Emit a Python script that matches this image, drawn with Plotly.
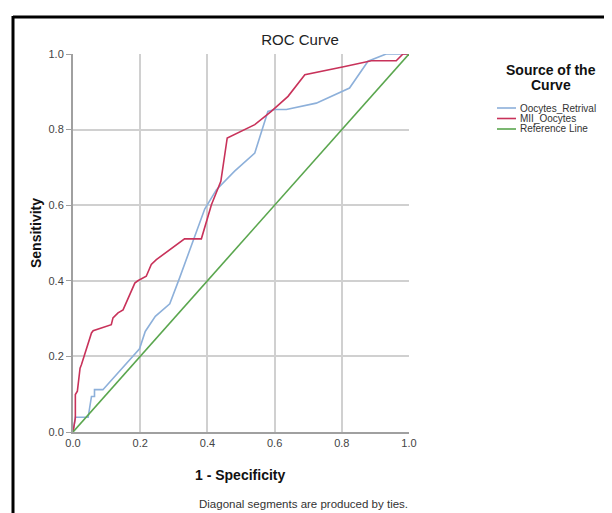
import plotly.graph_objects as go

# ---- data ----
fpr_retrival = [0, 0.007, 0.045, 0.055, 0.064, 0.064, 0.089, 0.198, 0.215, 0.245, 0.288,
                0.317, 0.392, 0.427, 0.481, 0.541, 0.580, 0.600, 0.635, 0.724, 0.823,
                0.878, 0.932, 1.0]
tpr_retrival = [0, 0.039, 0.039, 0.094, 0.094, 0.112, 0.112, 0.220, 0.266, 0.306, 0.339,
                0.407, 0.590, 0.641, 0.690, 0.738, 0.848, 0.853, 0.853, 0.870, 0.910,
                0.981, 1.0, 1.0]

fpr_mii = [0, 0.007, 0.007, 0.013, 0.021, 0.025, 0.055, 0.060, 0.114, 0.119, 0.134, 0.149,
           0.184, 0.193, 0.218, 0.233, 0.248, 0.283, 0.332, 0.382, 0.412, 0.440, 0.459,
           0.541, 0.590, 0.640, 0.690, 0.809, 0.888, 0.962, 0.982, 1.0]
tpr_mii = [0, 0.037, 0.099, 0.108, 0.169, 0.178, 0.262, 0.268, 0.284, 0.302, 0.315, 0.323,
           0.394, 0.400, 0.412, 0.443, 0.456, 0.478, 0.511, 0.511, 0.601, 0.663, 0.778,
           0.813, 0.848, 0.888, 0.945, 0.967, 0.982, 0.982, 1.0, 1.0]

ref_x = [0, 1]
ref_y = [0, 1]

series_names = ["Oocytes_Retrival", "MII_Oocytes", "Reference Line"]
series_colors = ["#8DB0DA", "#C8325A", "#5AA64E"]
tick_vals = [0, 0.2, 0.4, 0.6, 0.8, 1.0]
tick_text = ["0.0", "0.2", "0.4", "0.6", "0.8", "1.0"]

FONT = "Liberation Sans, Arial, sans-serif"

# pixel geometry helpers (plot area 65..401 x 46..424)
W, H = 612, 513
L, R, T, B = 65, 401, 46, 424


def px(xp):
    return (xp - L) / (R - L)


def py(yp):
    return (B - yp) / (B - T)


fig = go.Figure()
xs = [fpr_retrival, fpr_mii, ref_x]
ys = [tpr_retrival, tpr_mii, ref_y]
for i in range(3):
    fig.add_trace(go.Scatter(x=xs[i], y=ys[i], mode="lines", name=series_names[i],
                             line=dict(color=series_colors[i], width=1.6),
                             showlegend=False, hoverinfo="skip"))

axis_common = dict(range=[0, 1], tickvals=tick_vals, ticktext=tick_text,
                   showgrid=True, gridcolor="#D0D0D0", gridwidth=1.6,
                   zeroline=False, showline=True, linecolor="#A0A0A0", linewidth=2,
                   tickfont=dict(family=FONT, size=11, color="#444444"))

fig.update_xaxes(**axis_common, ticks="")
fig.update_yaxes(**axis_common, ticks="outside", ticklen=5, tickcolor="#A0A0A0")

annotations = []
# axis titles
annotations.append(dict(text="<b>Sensitivity</b>", x=px(28), y=py(225), xref="paper", yref="paper",
                        textangle=-90, showarrow=False, xanchor="center", yanchor="middle",
                        font=dict(family=FONT, size=14, color="#111111")))
annotations.append(dict(text="<b>1 - Specificity</b>", x=px(232), y=py(467), xref="paper", yref="paper",
                        showarrow=False, xanchor="center", yanchor="middle",
                        font=dict(family=FONT, size=14, color="#111111")))
annotations.append(dict(text="Diagonal segments are produced by ties.", x=px(402), y=py(496),
                        xref="paper", yref="paper", showarrow=False, xanchor="right", yanchor="middle",
                        font=dict(family=FONT, size=11.5, color="#333333")))
# legend title
annotations.append(dict(text="<b>Source of the</b>", x=px(543), y=py(62), xref="paper", yref="paper",
                        showarrow=False, xanchor="center", yanchor="middle",
                        font=dict(family=FONT, size=14, color="#111111")))
annotations.append(dict(text="<b>Curve</b>", x=px(543), y=py(77), xref="paper", yref="paper",
                        showarrow=False, xanchor="center", yanchor="middle",
                        font=dict(family=FONT, size=14, color="#111111")))

shapes = []
row_y = [100, 110.5, 121]
for i in range(3):
    annotations.append(dict(text=series_names[i], x=px(510), y=py(row_y[i]), xref="paper", yref="paper",
                            showarrow=False, xanchor="left", yanchor="middle",
                            font=dict(family=FONT, size=10, color="#333333")))
    shapes.append(dict(type="line", xref="paper", yref="paper", x0=px(489), x1=px(508),
                       y0=py(row_y[i]), y1=py(row_y[i]),
                       line=dict(color=series_colors[i], width=1.6)))

# outer frame (left and top edges visible)
shapes.append(dict(type="line", xref="paper", yref="paper", x0=px(5), x1=px(5),
                   y0=py(8), y1=py(520), line=dict(color="#000000", width=3)))
shapes.append(dict(type="line", xref="paper", yref="paper", x0=px(5), x1=px(620),
                   y0=py(9), y1=py(9), line=dict(color="#000000", width=3)))

fig.update_layout(
    width=W, height=H,
    margin=dict(l=L, r=W - R, t=T, b=H - B),
    paper_bgcolor="white", plot_bgcolor="white",
    title=dict(text="ROC Curve", x=px(292), xref="paper", xanchor="center",
               y=1 - 32 / H, yref="container", yanchor="middle",
               font=dict(family=FONT, size=15, color="#222222")),
    annotations=annotations,
    shapes=shapes,
    showlegend=False,
)

fig.write_html("out.html")
